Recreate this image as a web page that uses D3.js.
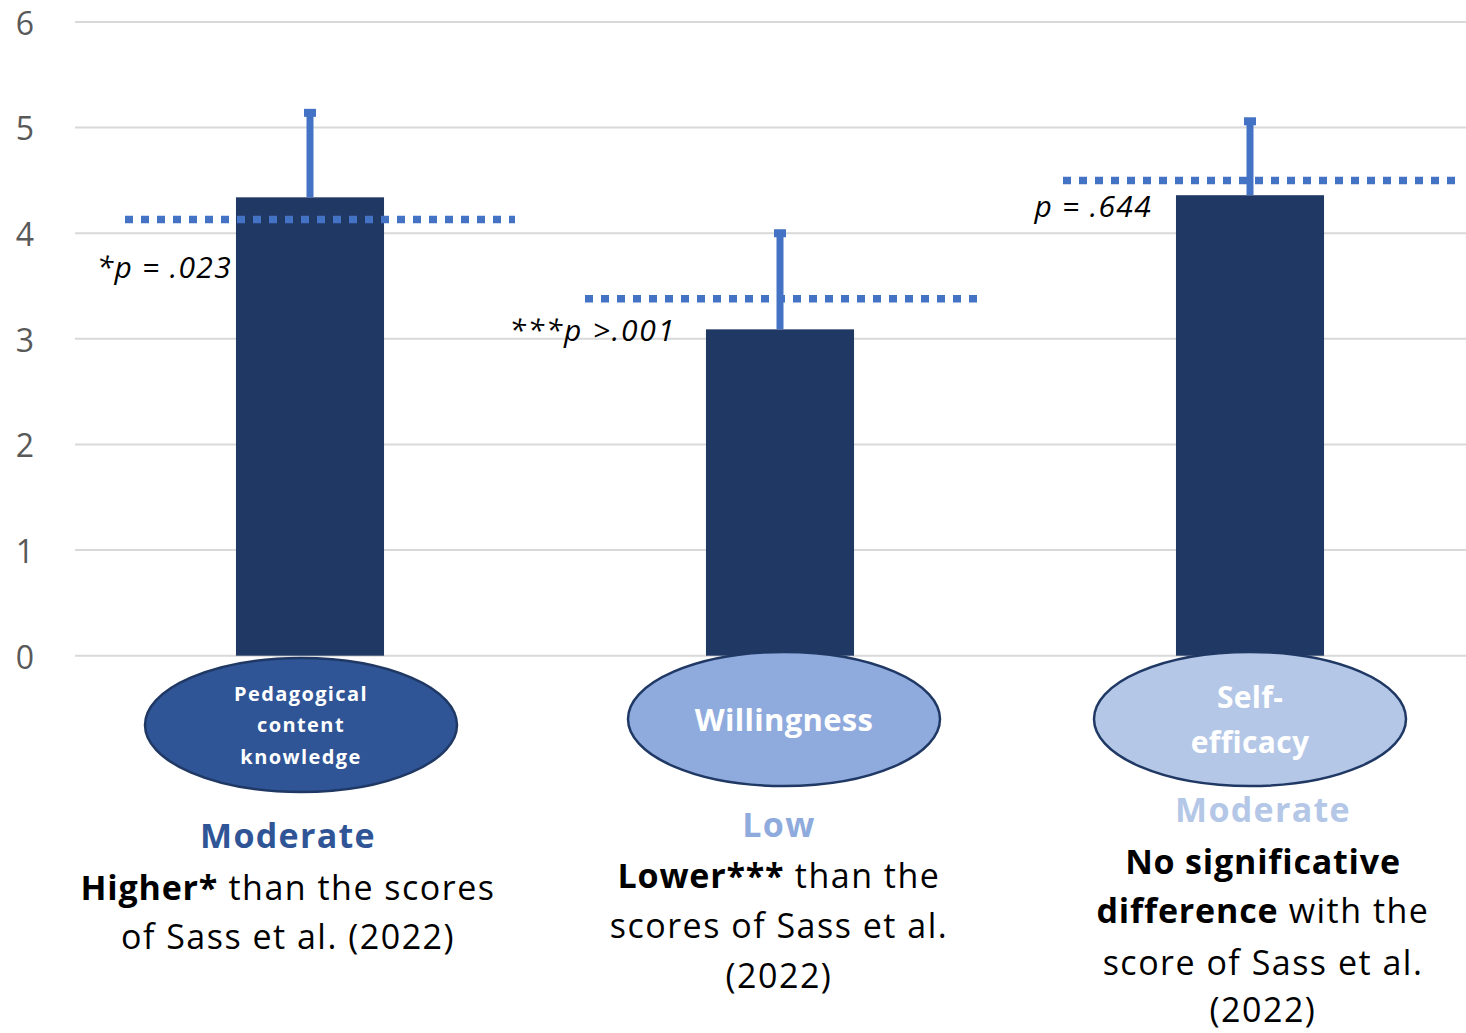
<!DOCTYPE html>
<html>
<head>
<meta charset="utf-8">
<script src="https://cdn.jsdelivr.net/npm/d3@7"></script>
<style>
  html, body { margin: 0; padding: 0; background: #fff; }
  svg { display: block; }
</style>
</head>
<body>
<script>
// ---------- data ----------
const categories = ["Pedagogical content knowledge", "Willingness", "Self-efficacy"];
const means = [4.34, 3.09, 4.36];
const errorUpper = [5.14, 4.00, 5.06];
const referenceScores = [4.13, 3.38, 4.50];
const pLabels = ["*p = .023", "***p >.001", "p = .644"];
const levelLabels = ["Moderate", "Low", "Moderate"];
const ellipseLabels = [["Pedagogical", "content", "knowledge"], ["Willingness"], ["Self-", "efficacy"]];
const descriptions = [
  [[["Higher*", true], [" than the scores", false]], [["of Sass et al. (2022)", false]]],
  [[["Lower***", true], [" than the", false]], [["scores of Sass et al.", false]], [["(2022)", false]]],
  [[["No significative", true]], [["difference", true], [" with the", false]], [["score of Sass et al.", false]], [["(2022)", false]]]
];
const yTicks = [0, 1, 2, 3, 4, 5, 6];

// ---------- layout / style ----------
const W = 1466, H = 1033;
const font = "'Open Sans', 'Noto Sans', sans-serif";
const colors = {
  bar: "#203864", err: "#4472C4", grid: "#D9D9D9", tick: "#595959",
  ellipseFill: ["#2F5597", "#8FAADC", "#B4C7E7"], ellipseStroke: "#1F3864",
  level: ["#2F5597", "#8FAADC", "#B4C7E7"]
};
const refExtent = [[-185, 205], [-195, 197], [-187, 213]];
const pLabelPos = [{dx: -4, y: 278, ls: 1.3}, {dx: -30, y: 341, ls: 1.8}, {dx: -24, y: 217, ls: 1.3}];
const ellipseGeo = [{dx: -9, cy: 725}, {dx: 4, cy: 719}, {dx: 0, cy: 719}];
const ellipseText = [{size: 20, ls: 1.4, base: [701, 732, 764]}, {size: 31, ls: 0.3, base: [731]}, {size: 30, ls: 0.3, base: [708, 753]}];
const textGroups = [{dx: -22, base: [848, 900, 949]}, {dx: -1, base: [837, 888, 938, 988]}, {dx: 13, base: [822, 874, 923, 975, 1022]}];

const svg = d3.select("body").append("svg").attr("width", W).attr("height", H);

const y = d3.scaleLinear().domain([0, 6]).range([655.7, 22]);
const x = d3.scaleBand().domain(categories).range([75, 1485]).paddingInner(0.685).paddingOuter(0.3425);
const cx = c => x(c) + x.bandwidth() / 2;

// gridlines
svg.append("g").selectAll("line").data(yTicks).join("line")
  .attr("x1", 75).attr("x2", W)
  .attr("y1", d => y(d)).attr("y2", d => y(d))
  .attr("stroke", colors.grid).attr("stroke-width", 2);

// y axis tick labels
const yAxis = d3.axisLeft(y).tickValues(yTicks).tickSize(0).tickPadding(0).tickFormat(d3.format("d"));
const ya = svg.append("g").attr("transform", "translate(36,0)").call(yAxis);
ya.select(".domain").remove();
ya.selectAll("text").attr("font-family", font).attr("font-size", 32).attr("fill", colors.tick)
  .attr("text-anchor", "middle").attr("dx", -11).attr("dy", "0.385em");

// bars
svg.append("g").selectAll("rect").data(categories).join("rect")
  .attr("x", d => x(d)).attr("width", x.bandwidth())
  .attr("y", (d, i) => y(means[i])).attr("height", (d, i) => y(0) - y(means[i]))
  .attr("fill", colors.bar);

// reference dotted lines
svg.append("g").selectAll("line").data(categories).join("line")
  .attr("x1", (d, i) => cx(d) + refExtent[i][0]).attr("x2", (d, i) => cx(d) + refExtent[i][1])
  .attr("y1", (d, i) => y(referenceScores[i])).attr("y2", (d, i) => y(referenceScores[i]))
  .attr("stroke", colors.err).attr("stroke-width", 7.5).attr("stroke-dasharray", "8,8");

// error bars
const eg = svg.append("g");
eg.selectAll("line").data(categories).join("line")
  .attr("x1", d => cx(d)).attr("x2", d => cx(d))
  .attr("y1", (d, i) => y(means[i])).attr("y2", (d, i) => y(errorUpper[i]))
  .attr("stroke", colors.err).attr("stroke-width", 7);
eg.selectAll("rect").data(categories).join("rect")
  .attr("x", d => cx(d) - 6).attr("width", 12)
  .attr("y", (d, i) => y(errorUpper[i]) - 4).attr("height", 8)
  .attr("fill", colors.err);

// p labels
svg.append("g").selectAll("text").data(categories).join("text")
  .attr("x", (d, i) => x(d) + pLabelPos[i].dx)
  .attr("y", (d, i) => pLabelPos[i].y)
  .attr("text-anchor", "end")
  .attr("font-family", font).attr("font-style", "italic").attr("font-size", 30)
  .attr("letter-spacing", (d, i) => pLabelPos[i].ls).attr("fill", "#000")
  .text((d, i) => pLabels[i]);

// ellipses
const el = svg.append("g");
el.selectAll("ellipse").data(categories).join("ellipse")
  .attr("cx", (d, i) => cx(d) + ellipseGeo[i].dx).attr("cy", (d, i) => ellipseGeo[i].cy)
  .attr("rx", 156).attr("ry", 67)
  .attr("fill", (d, i) => colors.ellipseFill[i])
  .attr("stroke", colors.ellipseStroke).attr("stroke-width", 2.5);
categories.forEach((c, i) => {
  ellipseLabels[i].forEach((line, j) => {
    el.append("text")
      .attr("x", cx(c) + ellipseGeo[i].dx).attr("y", ellipseText[i].base[j])
      .attr("text-anchor", "middle")
      .attr("font-family", font).attr("font-weight", 700)
      .attr("font-size", ellipseText[i].size).attr("letter-spacing", ellipseText[i].ls)
      .attr("fill", "#fff").text(line);
  });
});

// level + description text
const tg = svg.append("g");
categories.forEach((c, i) => {
  const gx = cx(c) + textGroups[i].dx;
  tg.append("text").attr("x", gx).attr("y", textGroups[i].base[0])
    .attr("text-anchor", "middle").attr("font-family", font).attr("font-weight", 700)
    .attr("font-size", 34).attr("letter-spacing", 1.3).attr("fill", colors.level[i]).text(levelLabels[i]);
  descriptions[i].forEach((line, j) => {
    const t = tg.append("text").attr("x", gx).attr("y", textGroups[i].base[j + 1])
      .attr("text-anchor", "middle").attr("font-family", font)
      .attr("font-size", 34).attr("fill", "#000");
    line.forEach(seg => {
      t.append("tspan").attr("font-weight", seg[1] ? 700 : 400)
        .attr("letter-spacing", seg[1] ? 0.8 : 1.5).text(seg[0]);
    });
  });
});
</script>
</body>
</html>
